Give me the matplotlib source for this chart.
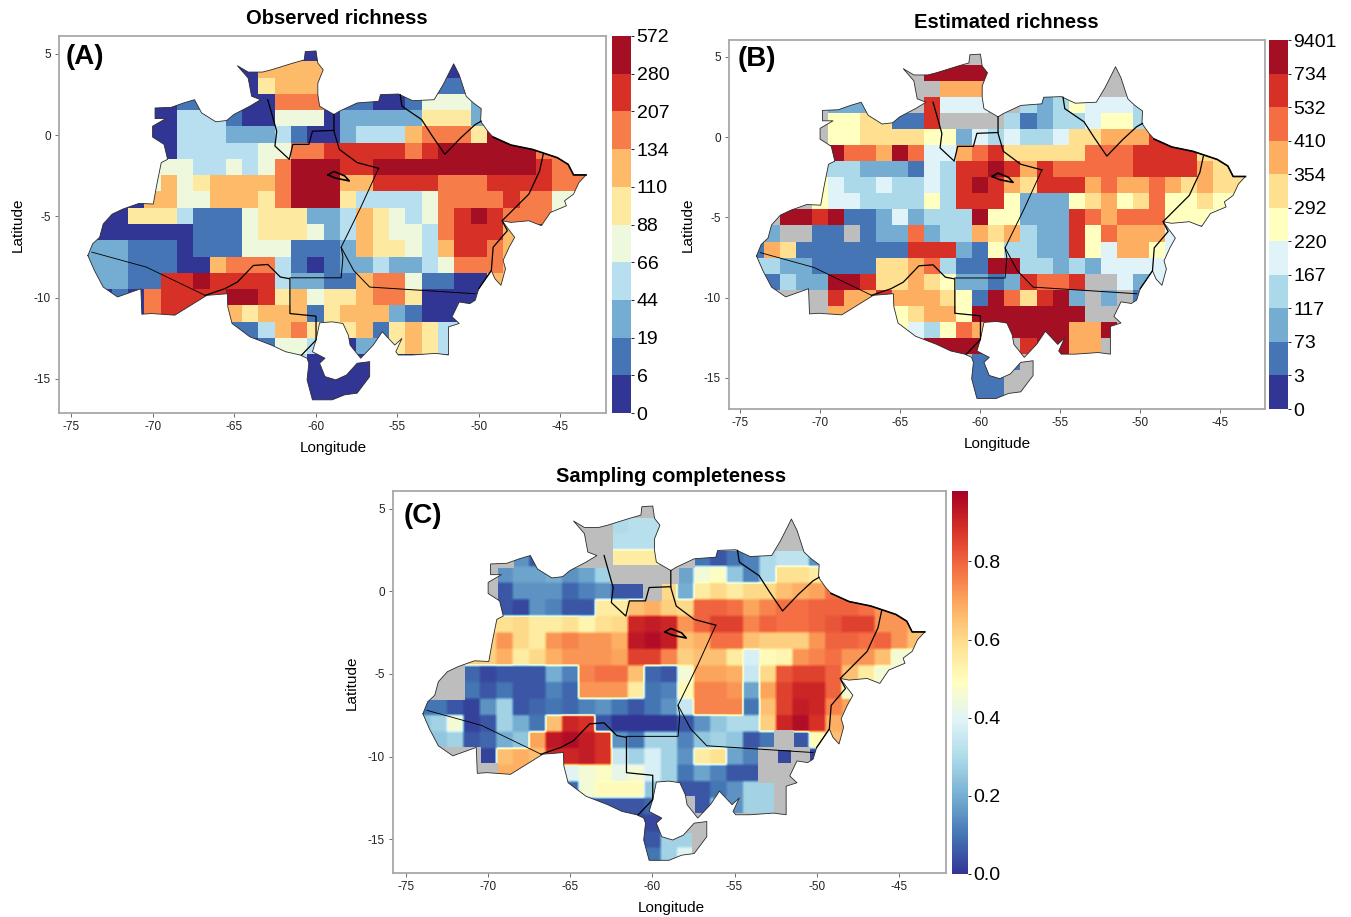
import numpy as np
import matplotlib
matplotlib.use("Agg")
import matplotlib.pyplot as plt
from matplotlib.colors import ListedColormap, BoundaryNorm, Normalize
from matplotlib.cm import ScalarMappable
from matplotlib.patches import Polygon

plt.rcParams['font.family'] = ['Liberation Sans', 'DejaVu Sans']

N = np.nan

# region outline and state borders (lon, lat)
outline_lon = [-73.97, -73.68, -73.25, -73.03, -72.48, -71.82, -70.83, -69.96, -69.74, -69.47, -69.08, -69.3, -70, -70, -69.19, -69.85, -69.85, -68.86, -68.1, -67.43, -67, -66.12, -65.46, -65.02, -64.04, -63.38, -63.93, -64.14, -64.8, -64.14, -63.27, -62.72, -61.4, -60.7, -60.64, -59.98, -59.87, -59.54, -59.87, -59.87, -59.76, -58.88, -58.55, -57.46, -56.14, -56.03, -54.93, -54.06, -52.74, -52.19, -51.54, -51.2, -50.77, -50.33, -49.85, -49.89, -49.45, -49.12, -48.03, -46.71, -45.18, -44.52, -44.19, -43.42, -43.86, -44.19, -44.74, -44.63, -45.61, -46.16, -46.93, -48.03, -48.57, -47.8, -48.14, -48.51, -48.36, -48.64, -49.01, -49.23, -50, -50.22, -50.55, -51.2, -51.64, -51.2, -51.86, -51.86, -52.63, -54.06, -54.93, -55.09, -54.71, -55.15, -55.92, -56.47, -57.24, -57.89, -58, -58.33, -58.99, -59.76, -59.98, -60.2, -59.43, -59.76, -59.43, -58.77, -58.11, -57.46, -56.69, -56.69, -57.46, -58.22, -58.99, -60.2, -60.53, -60.42, -60.53, -60.96, -61.84, -62.72, -64.04, -65.13, -65.39, -65.42, -66.67, -67.65, -68.64, -70.07, -70.66, -70.72, -72.15, -73.03, -73.57]
outline_lat = [-7.41, -6.69, -6.29, -5.47, -4.86, -4.55, -4.2, -4.24, -3.02, -1.69, -1.49, -0.57, -0.12, 0.55, 1.02, 1.02, 1.67, 1.71, 1.98, 2.18, 1.37, 0.82, 0.9, 1.27, 1.78, 2.18, 2.39, 3.51, 4.27, 3.88, 3.88, 4.02, 4.43, 4.63, 5.14, 5.18, 4.43, 4.02, 3.2, 2.49, 1.78, 1.27, 1.47, 1.98, 2.08, 2.49, 2.53, 2.12, 2.18, 3.1, 4.39, 3.71, 2.39, 1.98, 1.63, 0.86, 0.24, -0.12, -0.61, -0.88, -1.39, -1.8, -2.45, -2.45, -2.92, -3.63, -4.04, -4.35, -4.76, -5.57, -5.27, -5.37, -5.27, -6.29, -6.9, -7.71, -8.22, -9.24, -8.84, -8.33, -9.45, -10.16, -10.37, -10.27, -11.18, -11.59, -11.8, -13.53, -13.43, -13.53, -13.53, -13.33, -12.51, -12.92, -12.1, -12.92, -13.73, -12.92, -12.31, -11.59, -11.49, -11.55, -12.61, -13.33, -13.73, -14.04, -14.86, -15.06, -14.76, -14.04, -13.94, -14.86, -15.88, -15.98, -16.29, -16.29, -15.06, -14.04, -13.73, -13.53, -13.33, -12.92, -12.41, -11.59, -10.57, -9.76, -9.86, -10.47, -11.08, -10.98, -11.02, -9.45, -9.96, -9.35, -8.33]

borders = [
    ([-73.73, -70.39, -66.78], [-7.2, -8.12, -9.86], 0.6),
    ([-66.78, -65.57, -64.8, -63.82, -62.94, -62.17, -61.58, -61.58, -59.98, -59.98, -60.86], [-9.86, -9.45, -9.04, -8.02, -7.96, -8.73, -8.84, -10.98, -11.14, -12.61, -13.53], 0.9),
    ([-61.58, -58.44, -58.33, -58.44, -57.24, -56.14], [-8.78, -8.78, -7.51, -6.9, -4.45, -2.04], 0.7),
    ([-58.44, -57.67, -56.69, -50.22], [-6.9, -8.33, -9.35, -9.76], 0.7),
    ([-56.14, -57.46, -58.55, -58.88, -58.88], [-2.04, -1.69, -0.88, 0.24, 1.27], 0.9),
    ([-58.88, -60.2, -60.42, -61.4, -61.62, -62.5, -62.39, -62.94], [0.29, 0.24, -0.57, -0.57, -1.49, -0.67, 0.24, 2.18], 0.9),
    ([-54.82, -54.71, -53.51, -52.85, -52.08, -51.1, -50.22, -49.85], [2.49, 1.78, 0.96, -0.06, -1.18, -0.16, 0.65, 0.86], 0.9),
    ([-46.05, -46.27, -46.93, -48.57, -48.25, -49.12, -49.23, -50], [-1.18, -2.2, -3.63, -5.27, -5.88, -6.9, -8.33, -9.45], 0.9),
    ([-59.25, -58.88, -58.22, -57.94, -58.77, -59.25], [-2.45, -2.24, -2.51, -2.82, -2.65, -2.45], 1.2),
    ([-49.12, -48.03, -46.71, -45.18, -44.52, -44.19, -43.42], [-0.12, -0.61, -0.88, -1.39, -1.8, -2.45, -2.45], 1.2),
]

# rows run from lat 5 to lat -16, columns from lon -74 to lon -44
obs_classes = [
    [0,0,0,0,0,0,0,0,0,0,0,0,0,0,0,0,0,0,0,0,0,0,0,0,0,0,0,0,0,0,0],
    [0,0,0,0,0,0,0,0,0,0,0,6,6,6,6,3,0,0,0,0,0,0,0,0,0,0,0,0,0,0,0],
    [0,0,0,0,0,0,0,0,0,0,0,5,6,6,6,3,0,0,0,0,0,0,1,1,1,0,0,0,0,0,0],
    [0,0,0,0,0,0,1,1,1,1,0,0,7,7,7,2,1,1,0,0,1,4,4,4,2,2,0,0,0,0,0],
    [0,0,0,0,0,0,3,3,3,1,0,0,4,4,4,0,2,2,2,2,2,5,5,5,2,2,0,0,0,0,0],
    [0,0,0,0,0,0,3,3,3,2,2,2,3,1,0,0,2,3,3,3,6,7,7,7,5,9,9,0,0,0,0],
    [0,0,0,0,0,0,3,3,3,3,3,4,4,7,7,8,8,8,8,8,7,8,9,9,9,9,9,9,7,7,0],
    [0,0,0,0,4,4,4,3,3,4,3,4,7,9,9,9,8,8,9,9,9,9,9,9,9,9,9,9,8,7,7],
    [0,0,0,0,4,6,4,5,6,6,6,6,7,9,9,9,6,6,8,8,8,8,7,7,7,8,8,8,8,7,7],
    [0,0,0,0,6,6,4,4,6,6,6,5,7,9,9,9,5,3,3,3,3,4,7,7,7,7,8,7,7,4,4],
    [0,0,0,5,5,5,3,1,1,1,4,5,5,5,2,2,3,6,5,4,3,4,7,8,9,8,7,7,7,4,0],
    [0,0,0,0,0,0,0,1,1,1,4,5,5,5,4,2,3,6,5,4,4,3,7,8,8,8,6,6,0,0,0],
    [2,2,2,1,1,1,0,1,1,1,4,4,4,1,1,1,2,6,5,5,4,3,6,8,8,7,6,6,0,0,0],
    [2,2,2,1,1,1,0,0,6,7,7,7,3,1,0,1,2,2,3,2,2,3,4,7,7,7,6,6,0,0,0],
    [2,2,2,1,1,8,8,9,8,8,8,8,3,2,2,1,1,6,7,7,4,1,1,0,0,6,6,0,0,0,0],
    [0,0,1,0,7,8,8,8,8,9,9,8,5,6,4,5,5,6,7,7,5,0,0,0,0,0,0,0,0,0,0],
    [0,0,0,0,7,8,8,8,8,6,5,6,6,6,1,5,6,6,6,2,1,0,0,0,0,0,0,0,0,0,0],
    [0,0,0,0,0,0,0,0,1,1,1,3,6,7,5,5,5,6,1,5,6,5,3,3,0,0,0,0,0,0,0],
    [0,0,0,0,0,0,0,0,0,0,0,1,4,4,3,3,0,2,2,5,6,5,3,3,0,0,0,0,0,0,0],
    [0,0,0,0,0,0,0,0,0,0,0,0,0,3,0,0,0,0,0,0,0,0,0,0,0,0,0,0,0,0,0],
    [0,0,0,0,0,0,0,0,0,0,0,0,0,0,0,0,0,0,0,0,0,0,0,0,0,0,0,0,0,0,0],
    [0,0,0,0,0,0,0,0,0,0,0,0,0,0,0,0,0,0,0,0,0,0,0,0,0,0,0,0,0,0,0],
]
est_classes = [
    [N,N,N,N,N,N,N,N,N,N,N,N,N,N,N,N,N,N,N,N,N,N,N,N,N,N,N,N,N,N,N],
    [N,N,N,N,N,N,N,N,N,N,N,10,10,10,10,10,N,N,N,N,N,N,N,N,N,N,N,N,N,N,N],
    [N,N,N,N,N,N,N,N,N,N,N,N,7,7,7,7,N,N,N,N,N,N,N,N,N,N,N,N,N,N,N],
    [N,N,N,N,N,2,2,2,N,N,N,9,4,4,4,N,N,3,2,3,5,4,4,4,3,3,N,N,N,N,N],
    [N,N,N,N,N,5,5,6,6,1,1,9,N,N,N,N,3,1,2,3,3,4,5,5,3,3,N,N,N,N,N],
    [N,N,N,N,N,5,5,6,6,6,6,5,5,2,4,3,4,3,3,4,6,6,7,7,7,9,9,N,N,N,N],
    [N,N,N,N,N,10,8,8,7,10,8,4,4,7,8,9,6,6,6,6,6,8,8,8,9,9,9,9,6,6,N],
    [N,N,N,N,3,3,3,2,2,2,1,4,3,9,9,10,9,7,9,8,8,8,8,8,9,9,9,9,7,6,6],
    [N,N,N,N,5,4,3,3,4,3,3,4,3,9,10,9,7,6,9,9,9,7,8,7,7,8,7,6,7,6,6],
    [N,N,N,N,5,4,4,3,3,3,3,5,3,9,9,9,5,2,2,2,5,6,7,5,6,8,5,5,6,5,5],
    [N,N,10,10,9,10,1,1,2,4,2,3,3,3,10,5,5,2,2,2,9,8,7,8,8,8,5,5,5,5,N],
    [N,2,N,N,1,1,N,1,2,2,8,2,3,3,7,6,7,3,2,2,9,5,8,7,7,7,4,N,N,N,N],
    [1,7,6,1,1,1,1,1,1,1,9,9,9,2,1,5,3,3,2,2,9,5,4,7,7,5,4,4,N,N,N],
    [3,3,2,2,1,1,1,1,6,6,7,8,3,1,1,10,10,3,3,2,3,2,4,4,4,4,4,4,N,N,N],
    [3,1,3,2,2,10,10,9,6,6,7,6,5,2,2,1,2,9,8,8,9,N,N,4,2,4,4,N,N,N,N],
    [N,N,N,N,N,9,7,7,9,7,7,7,6,5,1,10,8,6,9,10,2,N,2,N,1,N,N,N,N,N,N],
    [N,N,N,N,N,7,7,7,7,5,6,7,7,5,10,10,10,10,10,10,10,N,N,N,N,N,N,N,N,N,N],
    [N,N,N,N,N,N,N,N,N,5,4,3,5,8,7,N,10,10,10,10,7,7,10,N,N,N,N,N,N,N,N],
    [N,N,N,N,N,N,N,N,N,N,N,10,10,10,10,N,N,9,10,10,7,7,N,N,N,N,N,N,N,N,N],
    [N,N,N,N,N,N,N,N,N,N,N,N,N,N,1,1,1,N,N,N,N,N,N,N,N,N,N,N,N,N,N],
    [N,N,N,N,N,N,N,N,N,N,N,N,N,N,1,1,N,N,N,N,N,N,N,N,N,N,N,N,N,N,N],
    [N,N,N,N,N,N,N,N,N,N,N,N,N,N,1,1,N,N,N,N,N,N,N,N,N,N,N,N,N,N,N],
]
completeness = [
    [N,N,N,N,N,N,N,N,N,N,N,N,N,N,N,N,N,N,N,N,N,N,N,N,N,N,N,N,N,N,N],
    [N,N,N,N,N,N,N,N,N,N,N,N,30,32,32,25,25,N,N,N,N,N,N,N,N,N,N,N,N,N,N],
    [N,N,N,N,N,N,N,N,N,N,N,N,32,32,32,32,N,N,N,N,N,N,N,N,N,N,N,N,N,N,N],
    [N,N,N,N,N,N,15,5,25,N,N,N,55,55,55,N,N,10,5,10,12,30,33,33,15,15,N,N,N,N,N],
    [N,N,N,N,N,15,18,18,20,15,18,28,N,N,N,N,18,45,48,25,12,30,58,58,55,55,N,N,N,N,N],
    [N,N,N,N,N,5,15,15,15,8,12,15,5,5,N,60,20,55,60,55,60,60,65,68,70,78,75,75,N,N,N],
    [N,N,N,N,N,5,3,15,12,5,5,55,55,65,68,62,60,80,80,78,70,75,78,78,80,80,80,78,72,72,72],
    [N,N,N,N,58,58,60,55,55,58,52,58,60,90,92,90,72,80,85,85,75,80,78,78,80,82,85,85,72,72,68],
    [N,N,N,62,62,72,60,55,72,75,72,72,68,93,95,92,65,68,78,78,65,62,62,62,72,80,80,78,80,72,65],
    [5,5,5,62,62,68,55,60,68,72,72,72,70,85,85,75,62,65,65,55,38,50,52,72,75,78,72,72,65,45,45],
    [5,N,N,8,3,5,5,5,20,12,75,78,78,65,8,5,45,70,70,68,35,60,82,85,85,80,65,55,45,45,N],
    [10,N,N,10,5,10,5,5,12,8,72,72,72,55,10,12,50,75,75,72,18,70,85,90,90,80,45,45,45,N,N],
    [10,10,5,2,15,28,5,8,10,8,12,15,10,5,10,15,35,75,75,75,10,65,85,92,90,75,70,70,N,N,N],
    [25,28,45,2,5,28,20,10,65,90,88,5,0,0,0,0,5,15,25,30,30,62,90,95,88,68,70,70,N,N,N],
    [25,25,28,5,8,20,25,70,93,95,92,88,15,10,28,28,12,25,28,25,5,10,N,5,50,65,65,65,N,N,N],
    [N,N,N,N,2,65,68,65,90,90,92,88,35,28,38,28,15,55,58,18,12,N,3,N,2,2,2,N,N,N,N],
    [N,N,N,N,N,68,68,68,68,40,45,48,42,45,38,28,10,18,12,5,5,N,N,N,N,N,N,N,N,N,N],
    [N,N,N,N,N,N,N,N,N,8,45,50,50,50,25,25,5,5,10,15,28,28,N,N,N,N,N,N,N,N,N],
    [N,N,N,N,N,N,N,N,N,N,5,5,5,5,8,8,N,5,25,15,28,28,N,N,N,N,N,N,N,N,N],
    [N,N,N,N,N,N,N,N,N,N,N,N,N,3,3,3,N,N,N,N,N,N,N,N,N,N,N,N,N,N,N],
    [N,N,N,N,N,N,N,N,N,N,N,N,N,5,5,28,28,N,N,N,N,N,N,N,N,N,N,N,N,N,N],
    [N,N,N,N,N,N,N,N,N,N,N,N,N,10,10,28,40,N,N,N,N,N,N,N,N,N,N,N,N,N,N],
]

obs_bounds = [0, 6, 19, 44, 66, 88, 110, 134, 207, 280, 572]
est_bounds = [0, 3, 73, 117, 167, 220, 292, 354, 410, 532, 734, 9401]
obs_colors = ['#313695', '#4575b4', '#74add1', '#b8dff0', '#edf8dc', '#fee9a0', '#fdbb6a', '#f67c4a', '#d73027', '#a50f24']
est_colors = ['#313695', '#4575b4', '#74add1', '#abd9e9', '#e0f3f8', '#ffffbf', '#fee090', '#fdae61', '#f46d43', '#d73027', '#a50f24']
lon_ticks = [-75, -70, -65, -60, -55, -50, -45]
lat_ticks = [5, 0, -5, -10, -15]

W, H = 1351, 917
fig = plt.figure(figsize=(W / 100, H / 100), dpi=100)


def px_axes(left, top, right, bottom):
    return fig.add_axes([left / W, 1 - bottom / H, (right - left) / W, (bottom - top) / H])


def px_text(x, y, s, **kw):
    fig.text(x / W, 1 - y / H, s, ha=kw.pop('ha', 'center'), va='center', **kw)


def draw_map(box, xlim, ylim, grid, cmap, vmin, vmax, soft, grey):
    ax = px_axes(*box)
    poly = Polygon(np.column_stack([outline_lon, outline_lat]), closed=True,
                   facecolor='#bdbdbd' if grey else 'none', edgecolor='none', zorder=1)
    ax.add_patch(poly)
    cells = np.array(grid, dtype=float)
    interp = 'nearest'
    if soft:
        # keep the blocks but blur their edges a little, as in the picture
        cells = np.repeat(np.repeat(cells, 5, axis=0), 5, axis=1)
        interp = 'bilinear'
    im = ax.imshow(np.ma.masked_invalid(cells), extent=(-74.5, -43.5, -16.5, 5.5),
                   origin='upper', cmap=cmap, vmin=vmin, vmax=vmax, interpolation=interp,
                   aspect='auto', zorder=2)
    im.set_clip_path(poly)
    ax.plot(outline_lon + outline_lon[:1], outline_lat + outline_lat[:1], color='#2b2b2b', lw=0.6, zorder=3)
    for xs, ys, lw in borders:
        ax.plot(xs, ys, color='black', lw=lw, zorder=4)
    ax.set_xlim(*xlim)
    ax.set_ylim(*ylim)
    ax.set_xticks(lon_ticks)
    ax.set_yticks(lat_ticks)
    ax.tick_params(labelsize=8.5, length=3, width=0.6, color='#555555', pad=3, labelcolor='#222222')
    ax.xaxis.set_major_formatter(lambda v, p: str(int(v)))
    ax.yaxis.set_major_formatter(lambda v, p: str(int(v)))
    for s in ax.spines.values():
        s.set_color('#a8a8a8')
        s.set_linewidth(1.3)
    return ax


def class_bar(box, bounds, colors):
    cax = px_axes(*box)
    norm = BoundaryNorm(bounds, len(colors))
    cb = fig.colorbar(ScalarMappable(norm=norm, cmap=ListedColormap(colors)), cax=cax,
                      spacing='uniform', ticks=bounds)
    cb.ax.tick_params(labelsize=14, length=2, width=0.6, pad=2)
    cb.ax.minorticks_off()
    cb.outline.set_visible(False)
    cb.ax.set_yticklabels([str(b) for b in bounds])


# panel A
draw_map((59, 36, 606, 413), (-75.74, -42.2), (-17.1, 6.1), obs_classes,
         ListedColormap(obs_colors), -0.5, 9.5, False, False)
class_bar((612, 36, 631, 413), obs_bounds, obs_colors)
px_text(337, 19, 'Observed richness', fontsize=14.5, fontweight='bold')
px_text(333, 448, 'Longitude', fontsize=11)
px_text(18, 225, 'Latitude', fontsize=11, rotation=90)
px_text(66, 57, '(A)', ha='left', fontsize=20, fontweight='bold')

# panel B
draw_map((729, 40, 1265, 409), (-75.69, -42.2), (-16.95, 6.06), est_classes,
         ListedColormap(est_colors), -0.5, 10.5, False, True)
class_bar((1269, 40, 1288, 409), est_bounds, est_colors)
px_text(1006, 23, 'Estimated richness', fontsize=14.5, fontweight='bold')
px_text(997, 444, 'Longitude', fontsize=11)
px_text(688, 225, 'Latitude', fontsize=11, rotation=90)
px_text(738, 59, '(B)', ha='left', fontsize=20, fontweight='bold')

# panel C
draw_map((393, 491, 946, 873), (-75.79, -42.13), (-17.06, 6.09), completeness,
         'RdYlBu_r', 0, 98, True, True)
cax = px_axes(952, 491, 968, 874)
cb = fig.colorbar(ScalarMappable(norm=Normalize(0, 0.98), cmap='RdYlBu_r'), cax=cax, ticks=[0, 0.2, 0.4, 0.6, 0.8])
cb.ax.tick_params(labelsize=14, length=2, width=0.6, pad=2)
cb.outline.set_visible(False)
px_text(671, 476, 'Sampling completeness', fontsize=14.5, fontweight='bold')
px_text(671, 908, 'Longitude', fontsize=11)
px_text(352, 683, 'Latitude', fontsize=11, rotation=90)
px_text(404, 516, '(C)', ha='left', fontsize=20, fontweight='bold')

fig.savefig('out.png', dpi=100)
